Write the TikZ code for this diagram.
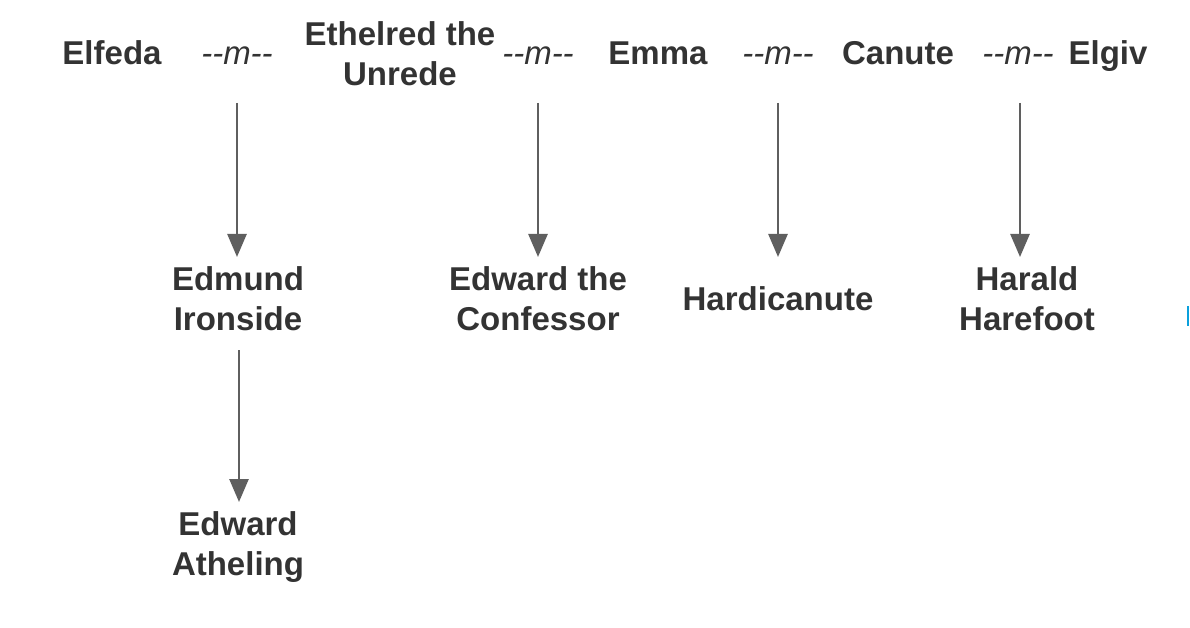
\documentclass[tikz,border=0pt]{standalone}
\usepackage{fontspec}
\setmainfont{Liberation Sans}
\usetikzlibrary{arrows.meta}
\definecolor{txt}{HTML}{333333}
\definecolor{arrowgray}{HTML}{5F5F5F}
\definecolor{cursorblue}{HTML}{0AA0DC}
\tikzset{
  person/.style={font=\fontsize{33}{40}\selectfont\bfseries, text=txt, align=center, inner sep=0pt},
  single/.style={person, anchor=base},
  marr/.style={font=\fontsize{33}{40}\selectfont\itshape, text=txt, inner sep=0pt, anchor=base},
  arr/.style={draw=arrowgray, line width=2.6pt, -{Triangle[width=19pt,length=23pt]}},
  fromtop/.style={arr, shorten <=38pt, shorten >=42pt},
  frommid/.style={arr, shorten <=51pt, shorten >=45pt}
}
\begin{document}
\begin{tikzpicture}[x=1pt,y=-1pt]
\useasboundingbox (0,0) rectangle (1190,628);
% top row
\node[single] (elfeda) at (112,65) {Elfeda};
\node[marr] (m1) at (237,65) {-{}-m-{}-};
\node[person] (ethelred) at (400,54) {Ethelred the\\Unrede};
\node[marr] (m2) at (538,65) {-{}-m-{}-};
\node[single] (emma) at (658,65) {Emma};
\node[marr] (m3) at (778,65) {-{}-m-{}-};
\node[single] (canute) at (898,65) {Canute};
\node[marr] (m4) at (1018,65) {-{}-m-{}-};
\node[single] (elgiv) at (1108,65) {Elgiv};
% children
\node[person] (edmund) at (238,299) {Edmund\\Ironside};
\node[person] (confessor) at (538,299) {Edward the\\Confessor};
\node[person] (hardi) at (778,299) {Hardicanute};
\node[person] (harald) at (1027,299) {Harald\\Harefoot};
\node[person] (atheling) at (238,547) {Edward\\Atheling};
% arrows
\draw[fromtop] (m1.base) -- (m1.base |- edmund.center);
\draw[fromtop] (m2.base) -- (m2.base |- confessor.center);
\draw[fromtop] (m3.base) -- (m3.base |- hardi.center);
\draw[fromtop] ([xshift=2pt]m4.base) coordinate (m4a) -- (m4a |- harald.center);
\draw[frommid] ([xshift=1pt]edmund.center) coordinate (ed) -- (ed |- atheling.center);
% cursor mark
\draw[cursorblue, line width=2pt] (1188,306) -- (1188,326);
\end{tikzpicture}
\end{document}
